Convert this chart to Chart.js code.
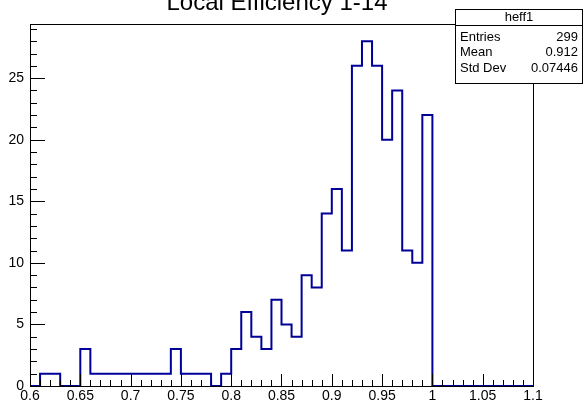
<!DOCTYPE html>
<html><head><meta charset="utf-8">
<script src="https://cdn.jsdelivr.net/npm/chart.js@4"></script>
<style>html,body{margin:0;padding:0;background:#fff;}#wrap{width:583px;height:402px;position:relative;}</style>
</head><body><div id="wrap"><canvas id="c"></canvas></div>
<script>
const titleText = "Local Efficiency 1-14";
const binEdges = [0.60,0.61,0.62,0.63,0.64,0.65,0.66,0.67,0.68,0.69,0.70,0.71,0.72,0.73,0.74,0.75,0.76,0.77,0.78,0.79,0.80,0.81,0.82,0.83,0.84,0.85,0.86,0.87,0.88,0.89,0.90,0.91,0.92,0.93,0.94,0.95,0.96,0.97,0.98,0.99,1.00,1.01,1.02,1.03,1.04,1.05,1.06,1.07,1.08,1.09,1.10];
const counts = [0,1,1,0,0,3,1,1,1,1,1,1,1,1,3,1,1,1,0,1,3,6,4,3,7,5,4,9,8,14,16,11,26,28,26,20,24,11,10,22,0,0,0,0,0,0,0,0,0,0];
const xTickValues = [0.6,0.65,0.7,0.75,0.8,0.85,0.9,0.95,1.0,1.05,1.1];
const xTickLabels = ["0.6","0.65","0.7","0.75","0.8","0.85","0.9","0.95","1","1.05","1.1"];
const yTickValues = [0,5,10,15,20,25];
const yTickLabels = ["0","5","10","15","20","25"];
const statsName = "heff1";
const statsLabels = ["Entries","Mean","Std Dev"];
const statsValues = ["299","0.912","0.07446"];

const FONT = "'Liberation Sans', Arial, Helvetica, sans-serif";
// each bin: start at left edge with its count, held until the next edge
const points = [{x:binEdges[0], y:0}];
counts.forEach((v,i)=>{ points.push({x:binEdges[i], y:v}); points.push({x:binEdges[i+1], y:v}); });
points.push({x:binEdges[binEdges.length-1], y:0});

const rootPlugin = {
  id:'rootFrame',
  afterDatasetsDraw(chart){
    const ctx = chart.ctx, a = chart.chartArea;
    const xs = chart.scales.x, ys = chart.scales.y;
    ctx.save();
    ctx.strokeStyle = '#000'; ctx.lineWidth = 1;
    ctx.strokeRect(Math.round(a.left)+0.5, Math.round(a.top)+0.5, Math.round(a.right-a.left), Math.round(a.bottom-a.top));
    ctx.beginPath();
    binEdges.forEach(v=>{
      const px = Math.round(xs.getPixelForValue(v))+0.5;
      ctx.moveTo(px, a.bottom); ctx.lineTo(px, a.bottom-6);
    });
    xTickValues.forEach(v=>{
      const px = Math.round(xs.getPixelForValue(v))+0.5;
      ctx.moveTo(px, a.bottom); ctx.lineTo(px, a.bottom-12);
    });
    for (let k=0;k<=29;k++){
      const py = Math.round(ys.getPixelForValue(k))+0.5;
      ctx.moveTo(a.left, py); ctx.lineTo(a.left+7, py);
    }
    yTickValues.forEach(v=>{
      const py = Math.round(ys.getPixelForValue(v))+0.5;
      ctx.moveTo(a.left, py); ctx.lineTo(a.left+15, py);
    });
    ctx.stroke();
    // title
    ctx.fillStyle = '#000';
    ctx.font = "24px " + FONT;
    ctx.textAlign = 'center'; ctx.textBaseline = 'alphabetic';
    ctx.fillText(titleText, 277, 10);
    // stats box
    const bx = 455.5, by = 9.5, bw = 127, bh = 74;
    ctx.fillStyle = '#fff';
    ctx.fillRect(bx, by, bw, bh);
    ctx.strokeRect(bx, by, bw, bh);
    ctx.beginPath(); ctx.moveTo(bx, 25.5); ctx.lineTo(bx+bw, 25.5); ctx.stroke();
    ctx.fillStyle = '#000';
    ctx.font = "13px " + FONT;
    ctx.textBaseline = 'middle';
    ctx.textAlign = 'center';
    ctx.fillText(statsName, bx+bw/2, 17.5);
    const rowY = [37, 52.5, 68.5];
    statsLabels.forEach((l,i)=>{
      ctx.textAlign = 'left'; ctx.fillText(l, 460, rowY[i]);
      ctx.textAlign = 'right'; ctx.fillText(statsValues[i], 578, rowY[i]);
    });
    ctx.restore();
  }
};

new Chart(document.getElementById('c'), {
  type:'line',
  data:{ datasets:[{
    data: points,
    borderColor:'#000099',
    borderWidth:2,
    pointRadius:0,
    fill:false,
    tension:0
  }]},
  options:{
    responsive:true, maintainAspectRatio:false, animation:false,
    layout:{padding:{top:24,right:50,left:0,bottom:0}},
    plugins:{legend:{display:false}, tooltip:{enabled:false}, title:{display:false}},
    scales:{
      x:{ type:'linear', min:0.6, max:1.1,
        grid:{display:false, drawTicks:false}, border:{display:false},
        afterBuildTicks(s){ s.ticks = xTickValues.map(v=>({value:v})); },
        afterFit(s){ s.height = 16; },
        ticks:{ autoSkip:false, maxRotation:0, padding:2, color:'#000',
          font:{family:FONT, size:14},
          callback:(v,i)=>xTickLabels[i] }
      },
      y:{ type:'linear', min:0, max:29.4,
        grid:{display:false, drawTicks:false}, border:{display:false},
        afterBuildTicks(s){ s.ticks = yTickValues.map(v=>({value:v})); },
        afterFit(s){ s.width = 30; },
        ticks:{ autoSkip:false, padding:6, color:'#000',
          font:{family:FONT, size:14},
          callback:(v,i)=>yTickLabels[i] }
      }
    }
  },
  plugins:[rootPlugin]
});
</script></body></html>
